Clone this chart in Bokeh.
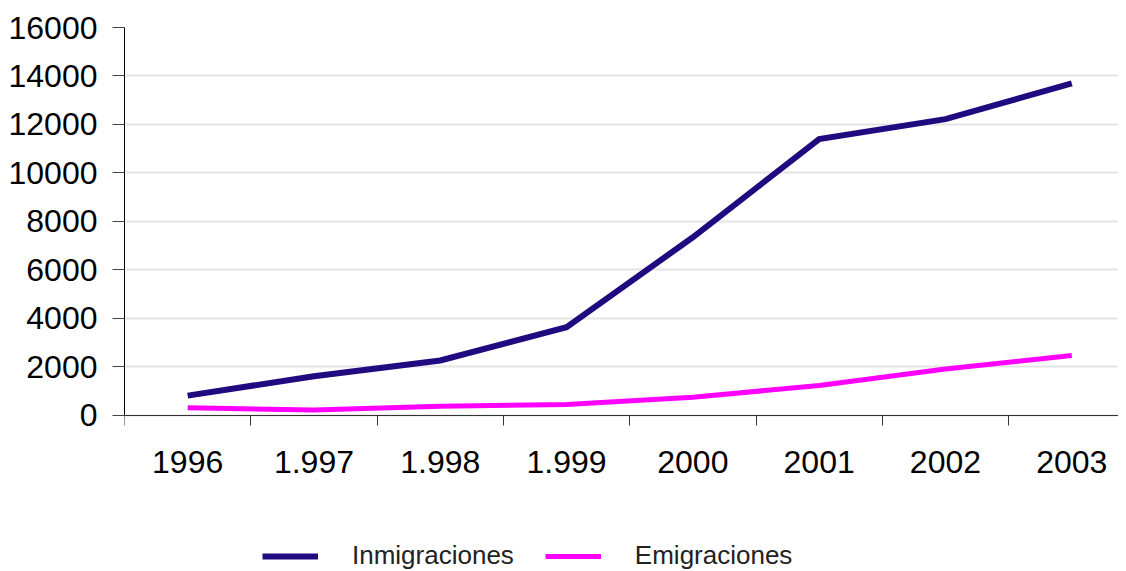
from bokeh.plotting import figure
from bokeh.models import Range1d, FixedTicker, Legend, LegendItem
from bokeh.embed import file_html
from bokeh.resources import INLINE

years = ["1996", "1.997", "1.998", "1.999", "2000", "2001", "2002", "2003"]
inmigraciones = [820, 1620, 2270, 3640, 7350, 11400, 12220, 13700]
emigraciones = [320, 230, 380, 450, 750, 1240, 1920, 2470]
y_ticks = [0, 2000, 4000, 6000, 8000, 10000, 12000, 14000, 16000]

xs = list(range(len(years)))
FONT = "Liberation Sans"

# frame spans down to the bottom of the page; y=0 sits where the axis is drawn
p = figure(
    output_backend="svg", toolbar_location=None,
    width=1118, height=571,
    frame_width=994, frame_height=544,
    min_border_left=124, min_border_right=0, min_border_top=27, min_border_bottom=0,
    x_range=Range1d(-0.5, 7.37), y_range=Range1d(-6433, 16000),
    background_fill_color="white", border_fill_color="white",
)
p.outline_line_color = None

r1 = p.line(xs, inmigraciones, line_color="#1F0A80", line_width=6, line_join="miter")
r2 = p.line(xs, emigraciones, line_color="#FF00FF", line_width=5, line_join="miter")

# x axis: drawn at y=0, labels at category centers, tick marks at boundaries
xa = p.xaxis[0]
xa.fixed_location = 0
xa.ticker = FixedTicker(ticks=xs, minor_ticks=[i - 0.5 for i in range(len(years) + 1)])
xa.major_label_overrides = {i: y for i, y in enumerate(years)}
xa.major_tick_line_color = None
xa.major_tick_out = 0
xa.major_tick_in = 0
xa.minor_tick_out = 10
xa.minor_tick_in = 0
xa.minor_tick_line_color = "#333333"
xa.minor_tick_line_width = 1
xa.axis_line_color = "#333333"
xa.axis_line_width = 1
xa.major_label_text_font = FONT
xa.major_label_text_font_size = "32px"
xa.major_label_text_color = "black"
xa.major_label_standoff = 26

ya = p.yaxis[0]
ya.ticker = FixedTicker(ticks=y_ticks)
ya.bounds = (0, 16000)
ya.minor_tick_line_color = None
ya.major_tick_out = 12
ya.major_tick_in = 0
ya.major_tick_line_color = "#444444"
ya.axis_line_color = "black"
ya.axis_line_width = 1
ya.major_label_text_font = FONT
ya.major_label_text_font_size = "32px"
ya.major_label_text_color = "black"
ya.major_label_standoff = 15

p.xgrid.grid_line_color = None
p.ygrid.grid_line_color = "#e4e4e4"
p.ygrid.grid_line_width = 2

legend = Legend(
    items=[LegendItem(label="Inmigraciones", renderers=[r1]),
           LegendItem(label="Emigraciones", renderers=[r2])],
    orientation="horizontal", location=(138, 0),
    label_text_font=FONT, label_text_font_size="26px", label_text_color="#222222",
    glyph_width=56, glyph_height=20, label_standoff=34, spacing=31,
    padding=0, margin=0, border_line_alpha=0, background_fill_alpha=0,
)
p.add_layout(legend, "center")

open("out.html", "w").write(file_html(p, INLINE))
